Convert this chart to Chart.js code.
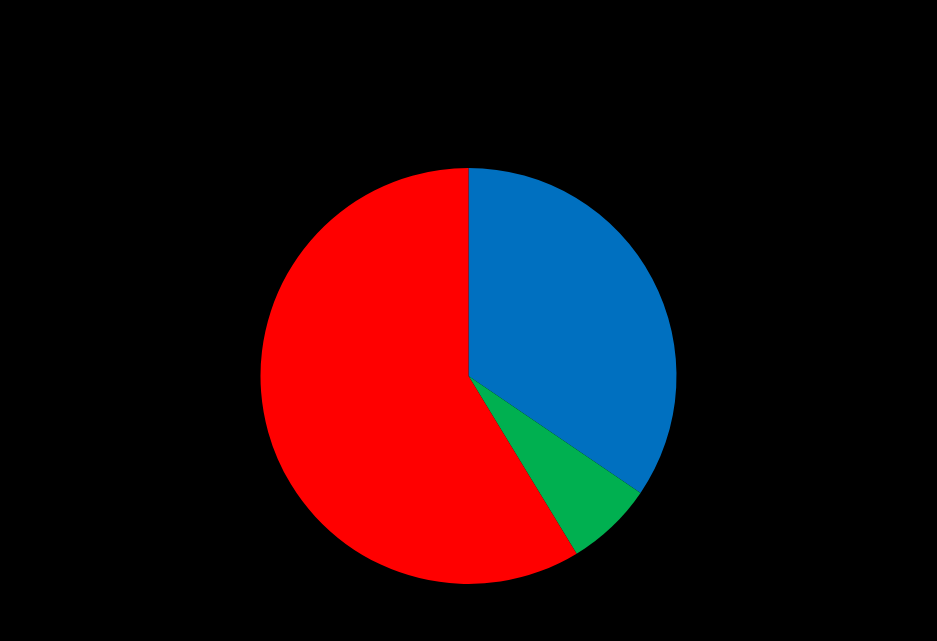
<!DOCTYPE html>
<html>
<head>
<meta charset="utf-8">
<script src="https://cdn.jsdelivr.net/npm/chart.js@4"></script>
<style>
  html, body { margin: 0; padding: 0; background: #000; }
  #wrap { width: 937px; height: 641px; }
</style>
</head>
<body>
<div id="wrap"><canvas id="myChart"></canvas></div>
<script>
const labels = ['Blue', 'Green', 'Red'];
const values = [34.5, 6.8, 58.7];
const colors = ['#0070C0', '#00B050', '#FF0000'];

const config = {
    type: 'pie',
    data: {
        labels: labels,
        datasets: [{
            data: values,
            backgroundColor: colors,
            borderWidth: 0
        }]
    },
    options: {
        responsive: true,
        maintainAspectRatio: false,
        animation: false,
        layout: {
            padding: { top: 168, bottom: 57, left: 0, right: 0 }
        },
        plugins: {
            legend: { display: false },
            tooltip: { enabled: false }
        }
    }
};

window.addEventListener('load', () => {
    const ctx = document.getElementById('myChart').getContext('2d');
    new Chart(ctx, config);
});
</script>
</body>
</html>
